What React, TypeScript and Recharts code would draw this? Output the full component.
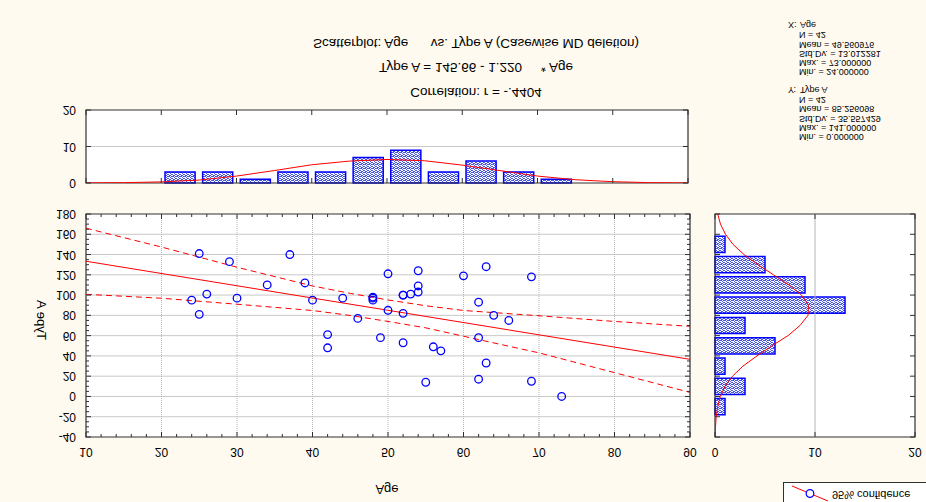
import React from "react";
import { ScatterChart, Scatter, XAxis, YAxis, ReferenceLine, ReferenceArea } from "recharts";

// scatter data (Age, Type A)
const ageVals = [25, 24, 25, 26, 29, 30, 34, 37, 39, 40, 42, 42, 44, 46, 48, 48, 48, 49, 50, 50, 54, 54, 54, 52, 52, 53, 52, 52, 55, 56, 57, 60, 62, 62, 62, 63, 63, 64, 66, 69, 69, 73];
const typeAVals = [141, 95, 81, 101, 133, 97, 110, 140, 112, 95, 61, 48, 97, 77, 98, 95, 97, 58, 85, 121, 124, 109, 103, 100, 100, 101, 82, 53, 14, 49, 45, 119, 93, 58, 17, 128, 33, 80, 75, 118, 15, 0];

// regression line and 95% confidence band
const regX = [10, 90];
const regY = [133.4, 36.6];
const bandX = [10, 20, 30, 40, 45, 50, 55, 60, 70, 80, 90];
const bandUpper = [166, 147.4, 127.5, 109, 101.7, 95.2, 89.5, 84.8, 79.6, 74, 69.2];
const bandLower = [100.8, 96.9, 91, 84.8, 79.9, 74, 67.7, 59.4, 43, 23.5, 4];

// Age histogram (bins of 5)
const ageBinStart = [20, 25, 30, 35, 40, 45, 50, 55, 60, 65, 70];
const ageBinCount = [3, 3, 1, 3, 3, 7, 9, 3, 6, 3, 1];
const ageCurveX = [10, 15, 20, 25, 30, 35, 40, 45, 50, 55, 60, 65, 70, 75, 80, 85, 90];
const ageCurveN = [0.03, 0.1, 0.3, 0.8, 1.9, 3.4, 5.0, 6.0, 6.45, 6.1, 4.9, 3.4, 1.9, 0.9, 0.35, 0.1, 0.03];

// Type A histogram (bins of 20)
const typeBinStart = [-20, 0, 20, 40, 60, 80, 100, 120, 140];
const typeBinCount = [1, 3, 1, 6, 3, 13, 9, 5, 1];
const typeCurveV = [-40, -30, -20, -10, 0, 10, 20, 30, 40, 50, 60, 70, 80, 90, 100, 110, 120, 130, 140, 150, 160, 170, 180];
const typeCurveN = [0.02, 0.05, 0.12, 0.27, 0.53, 1.0, 1.75, 2.8, 4.2, 5.7, 7.3, 8.5, 9.3, 9.35, 8.65, 7.4, 5.85, 4.3, 2.9, 1.8, 1.05, 0.55, 0.27];

const titleLines = [
  "Scatterplot: Age      vs. Type A (Casewise MD deletion)",
  "Type A = 145.66 - 1.220     * Age",
  "Correlation: r = -.4404",
];
const statsX = ["N = 42", "Mean = 49.560976", "Std.Dv. = 13.012281", "Max. = 73.000000", "Min. = 24.000000"];
const statsY = ["N = 42", "Mean = 85.256098", "Std.Dv. = 35.557429", "Max. = 141.000000", "Min. = 0.000000"];

const FONT = "Arial, 'Liberation Sans', sans-serif";
const BG = "#fffaf0";
const FRAME = "#303030";
const GRID = "#c8c8c8";

const points = ageVals.map((x, i) => ({ x, y: typeAVals[i] }));
const regData = regX.map((x, i) => ({ x, y: regY[i] }));
const upperData = bandX.map((x, i) => ({ x, y: bandUpper[i] }));
const lowerData = bandX.map((x, i) => ({ x, y: bandLower[i] }));
const ageCurve = ageCurveX.map((x, i) => ({ x, y: ageCurveN[i] }));
const typeCurve = typeCurveV.map((v, i) => ({ x: typeCurveN[i], y: v }));

const range = (a: number, b: number, s: number) => {
  const out: number[] = [];
  for (let v = a; v <= b + 1e-9; v += s) out.push(v);
  return out;
};

// text drawn upside-down in place, like the reference
function FlipText({ x, y, children, anchor = "middle", size = 12, rotate = 0 }: any) {
  const flip = `translate(0 ${2 * y}) scale(1 -1)`;
  const t = rotate ? `rotate(${rotate} ${x} ${y}) ${flip}` : flip;
  return (
    <text x={x} y={y} textAnchor={anchor} dominantBaseline="central" fontFamily={FONT} fontSize={size}
      fill="#000" transform={t} style={{ whiteSpace: "pre" }}>
      {children}
    </text>
  );
}

const xTick = (top: number, bottom: number, major: number, label: boolean) => (p: any) => {
  const v = p.payload.value;
  const isMajor = Math.abs(v % major) < 1e-9;
  const len = isMajor ? 5 : 3;
  return (
    <g>
      <line x1={p.x} x2={p.x} y1={bottom} y2={bottom - len} stroke={FRAME} />
      <line x1={p.x} x2={p.x} y1={top} y2={top + len} stroke={FRAME} />
      {label && isMajor && <FlipText x={p.x} y={bottom + 15}>{v}</FlipText>}
    </g>
  );
};

const yTick = (left: number, right: number, major: number, labelX: number | null) => (p: any) => {
  const v = p.payload.value;
  const isMajor = Math.abs(v % major) < 1e-9;
  const len = isMajor ? 5 : 3;
  return (
    <g>
      <line x1={left} x2={left + len} y1={p.y} y2={p.y} stroke={FRAME} />
      <line x1={right} x2={right - len} y1={p.y} y2={p.y} stroke={FRAME} />
      {labelX != null && isMajor && <FlipText x={labelX} y={p.y} anchor="end">{v}</FlipText>}
    </g>
  );
};

const dots = [[0, 0], [1, 0], [2, 1], [3, 2], [0, 2], [1, 3], [3, 0], [2, 3]];
const Pattern = ({ id }: { id: string }) => (
  <defs>
    <pattern id={id} width={4} height={4} patternUnits="userSpaceOnUse">
      <rect width={4} height={4} fill="#ffffff" />
      {dots.map(([dx, dy]) => (
        <rect key={dx + "-" + dy} x={dx} y={dy} width={1} height={1} fill="#4455ee" />
      ))}
    </pattern>
  </defs>
);

const noShape = () => <g />;
const circleShape = (p: any) => <circle cx={p.cx} cy={p.cy} r={3.8} fill="none" stroke="#0000ff" strokeWidth={1.3} />;

function MainPlot() {
  // plot area: x 86 .. 690, y 14 .. 237
  return (
    <ScatterChart width={700} height={300} margin={{ top: 14, right: 10, bottom: 33, left: 46 }}>
      <XAxis type="number" dataKey="x" domain={[10, 90]} ticks={range(10, 90, 2)} interval={0} allowDataOverflow
        axisLine={false} tickLine={false} height={30} tick={xTick(14, 237, 10, true)} />
      <YAxis type="number" dataKey="y" domain={[-40, 180]} ticks={range(-40, 180, 5)} interval={0} allowDataOverflow
        axisLine={false} tickLine={false} width={40} tick={yTick(86, 690, 20, 76)} />
      {range(-20, 160, 20).map((v) => (
        <ReferenceLine key={"h" + v} y={v} stroke={GRID} strokeWidth={1} />
      ))}
      {range(20, 80, 10).map((v) => (
        <ReferenceLine key={"v" + v} x={v} stroke="#b5b5b5" strokeDasharray="1 1" />
      ))}
      <ReferenceArea x1={10} x2={90} y1={-40} y2={180} fill="none" stroke={FRAME} strokeWidth={1.2} />
      <Scatter data={upperData} shape={noShape} line={{ stroke: "#ff0000", strokeWidth: 1, strokeDasharray: "6 4" }} lineType="joint" isAnimationActive={false} />
      <Scatter data={lowerData} shape={noShape} line={{ stroke: "#ff0000", strokeWidth: 1, strokeDasharray: "6 4" }} lineType="joint" isAnimationActive={false} />
      <Scatter data={regData} shape={noShape} line={{ stroke: "#ff0000", strokeWidth: 1 }} lineType="joint" isAnimationActive={false} />
      <Scatter data={points} shape={circleShape} isAnimationActive={false} />
    </ScatterChart>
  );
}

function TopHist() {
  // plot area: x 86 .. 688, y 10 .. 83
  return (
    <ScatterChart width={700} height={100} margin={{ top: 10, right: 12, bottom: 16, left: 56 }}>
      <Pattern id="patTop" />
      <XAxis type="number" dataKey="x" domain={[10, 90]} ticks={range(10, 90, 10)} interval={0} allowDataOverflow
        axisLine={false} tickLine={false} height={1} tick={xTick(10, 83, 10, false)} />
      <YAxis type="number" dataKey="y" domain={[0, 20]} ticks={[0, 10, 20]} interval={0} allowDataOverflow
        axisLine={false} tickLine={false} width={30} tick={yTick(86, 688, 10, 76)} />
      <ReferenceLine y={10} stroke={GRID} />
      {ageBinStart.map((s, i) => (
        <ReferenceArea key={s} x1={s + 0.5} x2={s + 4.5} y1={0} y2={ageBinCount[i]}
          fill="url(#patTop)" fillOpacity={1} stroke="#0000ff" strokeWidth={1.5} />
      ))}
      <ReferenceArea x1={10} x2={90} y1={0} y2={20} fill="none" stroke={FRAME} strokeWidth={1.2} />
      <Scatter data={ageCurve} shape={noShape} line={{ stroke: "#ff0000", strokeWidth: 1 }} lineType="joint" isAnimationActive={false} />
    </ScatterChart>
  );
}

function RightHist() {
  // plot area: x 15 .. 215, y 14 .. 237
  return (
    <ScatterChart width={226} height={300} margin={{ top: 14, right: 11, bottom: 33, left: 14 }}>
      <Pattern id="patRight" />
      <XAxis type="number" dataKey="x" domain={[0, 20]} ticks={[0, 10, 20]} interval={0} allowDataOverflow
        axisLine={false} tickLine={false} height={30} tick={xTick(14, 237, 10, true)} />
      <YAxis type="number" dataKey="y" domain={[-40, 180]} ticks={range(-40, 180, 20)} interval={0} allowDataOverflow
        axisLine={false} tickLine={false} width={1} tick={yTick(15, 215, 20, null)} />
      <ReferenceLine x={10} stroke="#b5b5b5" />
      {typeBinStart.map((s, i) => (
        <ReferenceArea key={s} x1={0} x2={typeBinCount[i]} y1={s + 2} y2={s + 18}
          fill="url(#patRight)" fillOpacity={1} stroke="#0000ff" strokeWidth={1.5} />
      ))}
      <ReferenceArea x1={0} x2={20} y1={-40} y2={180} fill="none" stroke={FRAME} strokeWidth={1.2} />
      <Scatter data={typeCurve} shape={noShape} line={{ stroke: "#ff0000", strokeWidth: 1 }} lineType="joint" isAnimationActive={false} />
    </ScatterChart>
  );
}

function Overlay() {
  const lineY = [43, 67, 92];
  const xStatY = [35, 44.5, 54, 63, 72];
  const yStatY = [99.5, 109, 118.5, 127.5, 136.5];
  return (
    <svg width={926} height={502} style={{ position: "absolute", left: 0, top: 0, pointerEvents: "none" }}>
      {titleLines.map((t, i) => (
        <FlipText key={t} x={476} y={lineY[i]} size={13.5}>{t}</FlipText>
      ))}
      <FlipText x={788} y={25} anchor="start" size={9}>X:</FlipText>
      <FlipText x={800} y={25} anchor="start" size={9}>Age</FlipText>
      {statsX.map((t, i) => (
        <FlipText key={"x" + i} x={799} y={xStatY[i]} anchor="start" size={9}>{t}</FlipText>
      ))}
      <FlipText x={788} y={90} anchor="start" size={9}>Y:</FlipText>
      <FlipText x={800} y={90} anchor="start" size={9}>Type A</FlipText>
      {statsY.map((t, i) => (
        <FlipText key={"y" + i} x={799} y={yStatY[i]} anchor="start" size={9}>{t}</FlipText>
      ))}
      <FlipText x={387} y={489} size={13}>Age</FlipText>
      <FlipText x={41} y={320} size={13} rotate={-90}>Type A</FlipText>
      <rect x={783.5} y={482.5} width={160} height={40} fill="#ffffff" stroke={FRAME} />
      <line x1={792} y1={486} x2={828} y2={501} stroke="#ff0000" />
      <circle cx={810} cy={493.5} r={3.8} fill="#fff" stroke="#0000ff" strokeWidth={1.3} />
      <FlipText x={832} y={495} anchor="start" size={11}>95% confidence</FlipText>
    </svg>
  );
}

export default function App() {
  return (
    <div style={{ position: "absolute", left: 0, top: 0, width: 926, height: 502, background: BG, overflow: "hidden" }}>
      <div style={{ position: "absolute", left: 0, top: 100 }}>
        <div style={{ position: "absolute", left: 86, top: 10, width: 602, height: 73, background: "#fff" }} />
        <div style={{ position: "relative" }}>
          <TopHist />
        </div>
      </div>
      <div style={{ position: "absolute", left: 0, top: 200 }}>
        <div style={{ position: "absolute", left: 86, top: 14, width: 604, height: 223, background: "#fff" }} />
        <div style={{ position: "relative" }}>
          <MainPlot />
        </div>
      </div>
      <div style={{ position: "absolute", left: 700, top: 200 }}>
        <div style={{ position: "absolute", left: 15, top: 14, width: 200, height: 223, background: "#fff" }} />
        <div style={{ position: "relative" }}>
          <RightHist />
        </div>
      </div>
      <Overlay />
    </div>
  );
}
